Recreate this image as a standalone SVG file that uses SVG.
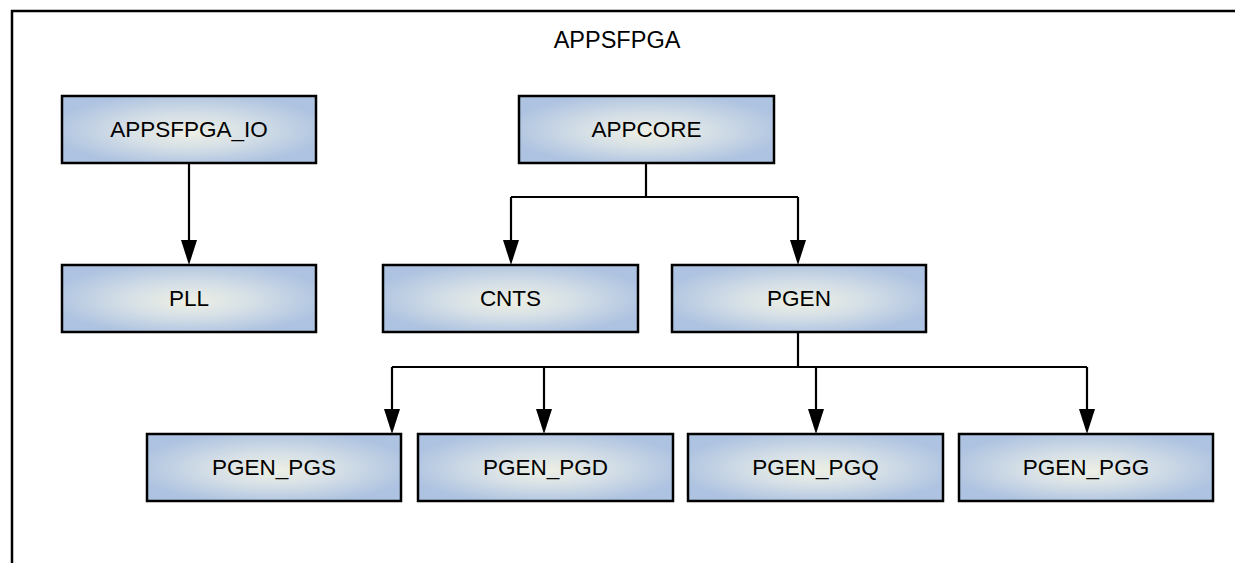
<svg xmlns="http://www.w3.org/2000/svg" width="1235" height="563" viewBox="0 0 1235 563">
<style>
.box{stroke:#000;stroke-width:2.5;fill:url(#g)}
.lbl{font-family:"Liberation Sans",Arial,sans-serif;font-size:22.5px;fill:#000;text-anchor:middle}
.ttl{font-family:"Liberation Sans",Arial,sans-serif;font-size:23.5px;fill:#000;text-anchor:middle}
.c{stroke:#000;stroke-width:2.2;fill:none}
.frame{stroke:#000;stroke-width:2.5;fill:none}
</style>
<defs>
<radialGradient id="g" cx="0.5" cy="0.5" r="0.55" fx="0.5" fy="0.55">
<stop offset="0" stop-color="#eef0e4"/>
<stop offset="0.45" stop-color="#d5dfe6"/>
<stop offset="1" stop-color="#aec3e1"/>
</radialGradient>
</defs>
<rect width="1235" height="563" fill="#fff"/>
<path class="frame" d="M12,563 L12,11 L1235,11"/>
<text class="ttl" x="617" y="48">APPSFPGA</text>
<g id="connectors">
<path class="c" d="M189,163 L189,240"/>
<path d="M181,240 L197,240 L189,265 Z"/>
<path class="c" d="M646,163 L646,197 M511,197 L798,197 M511,197 L511,240 M798,197 L798,240"/>
<path d="M503,240 L519,240 L511,265 Z"/>
<path d="M790,240 L806,240 L798,265 Z"/>
<path class="c" d="M798,332 L798,367 M392,367 L1087,367 M392,367 L392,409 M544,367 L544,409 M816,367 L816,409 M1087,367 L1087,409"/>
<path d="M384,409 L400,409 L392,434 Z"/>
<path d="M536,409 L552,409 L544,434 Z"/>
<path d="M808,409 L824,409 L816,434 Z"/>
<path d="M1079,409 L1095,409 L1087,434 Z"/>
</g>
<g id="APPSFPGA_IO"><rect class="box" x="62" y="96" width="254" height="67"/><text class="lbl" x="189" y="137">APPSFPGA_IO</text></g>
<g id="APPCORE"><rect class="box" x="519" y="96" width="255" height="67"/><text class="lbl" x="646.5" y="137">APPCORE</text></g>
<g id="PLL"><rect class="box" x="62" y="265" width="254" height="67"/><text class="lbl" x="189" y="306">PLL</text></g>
<g id="CNTS"><rect class="box" x="383" y="265" width="255" height="67"/><text class="lbl" x="510.5" y="306">CNTS</text></g>
<g id="PGEN"><rect class="box" x="672" y="265" width="254" height="67"/><text class="lbl" x="799" y="306">PGEN</text></g>
<g id="PGEN_PGS"><rect class="box" x="147" y="434" width="254" height="67"/><text class="lbl" x="274" y="475">PGEN_PGS</text></g>
<g id="PGEN_PGD"><rect class="box" x="418" y="434" width="255" height="67"/><text class="lbl" x="545.5" y="475">PGEN_PGD</text></g>
<g id="PGEN_PGQ"><rect class="box" x="688" y="434" width="255" height="67"/><text class="lbl" x="815.5" y="475">PGEN_PGQ</text></g>
<g id="PGEN_PGG"><rect class="box" x="959" y="434" width="254" height="67"/><text class="lbl" x="1086" y="475">PGEN_PGG</text></g>
</svg>
